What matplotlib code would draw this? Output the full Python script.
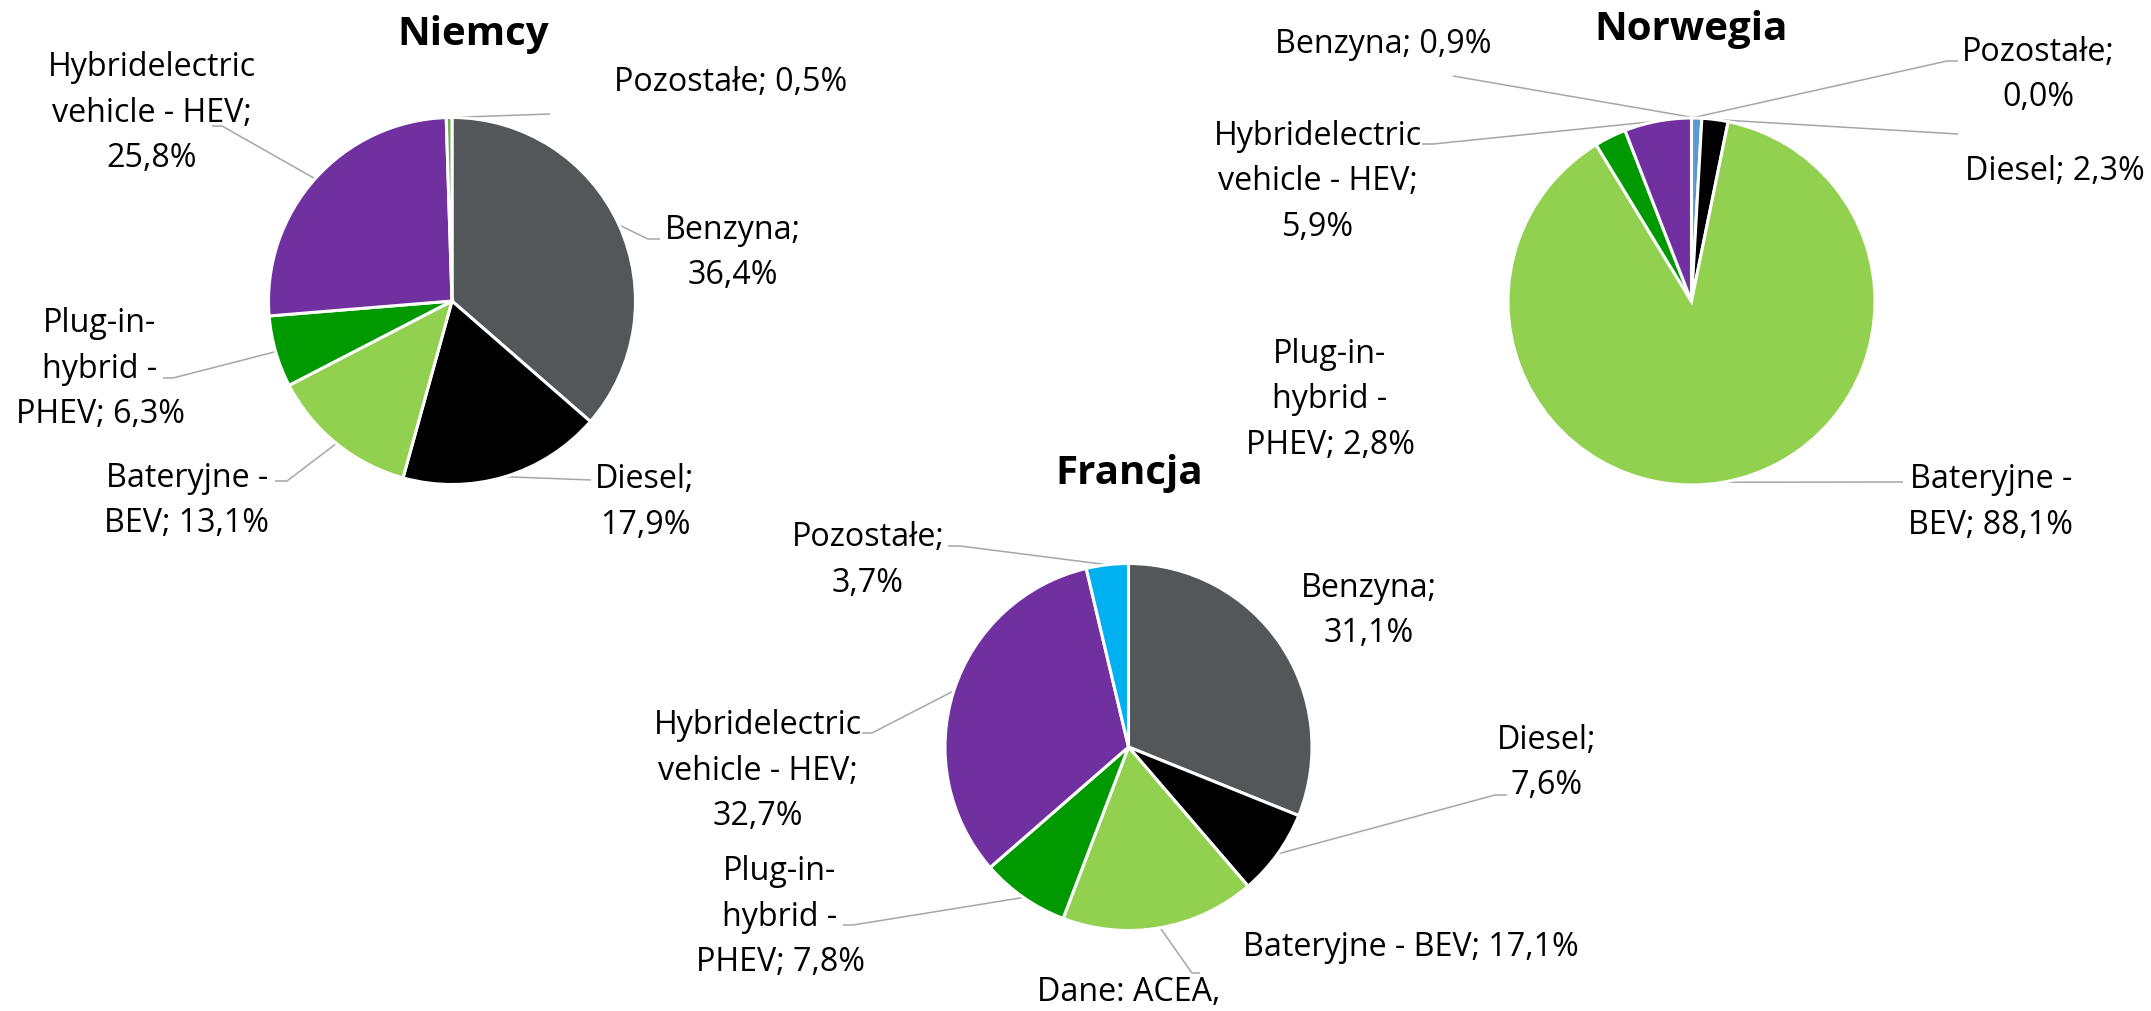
import matplotlib
matplotlib.use("Agg")
import matplotlib.pyplot as plt
import numpy as np

# ---------------- data ----------------
categories = ["Benzyna", "Diesel", "Bateryjne - BEV", "Plug-in-hybrid - PHEV",
              "Hybridelectric vehicle - HEV", "Pozostałe"]
niemcy = [36.4, 17.9, 13.1, 6.3, 25.8, 0.5]
norwegia = [0.9, 2.3, 88.1, 2.8, 5.9, 0.0]
francja = [31.1, 7.6, 17.1, 7.8, 32.7, 3.7]
titles = ["Niemcy", "Norwegia", "Francja"]
source_note = "Dane: ACEA,"

# ---------------- style ----------------
FONT = ["Open Sans", "DejaVu Sans"]
LABEL_SIZE = 23.2
TITLE_SIZE = 29
PITCH = 45.5
LEADER = "#A6A6A6"

base_colors = ["#53575A", "#000000", "#92D050", "#009900", "#7030A0"]
colors = {
    "Niemcy": base_colors + ["#70AD47"],
    "Norwegia": ["#5B9BD5"] + base_colors[1:] + ["#A5A5A5"],
    "Francja": base_colors + ["#00B0F0"],
}

# layout: center, radius, title baseline, per-category label layout
# label: (x_center, first_baseline, wrap_lengths, leader_points)
layout = {
    "Niemcy": dict(
        values=niemcy, center=(452, 301), r=183.5, title=(473, 45),
        labels=[
            (733, 239, [8], [(648, 239), (660, 239)]),
            (645, 488, [7], [(591, 480)]),
            (187, 487, [11], [(287, 481), (275, 481)]),
            (100, 332, [8, 8], [(173, 378), (163, 378)]),
            (152, 76, [14, 14], [(222, 126), (212, 126)]),
            (731, 91, [], [(550, 114)]),
        ]),
    "Norwegia": dict(
        values=norwegia, center=(1691.5, 301.5), r=183.5, title=(1691, 40),
        labels=[
            (1383, 53, [], [(1453, 76)]),
            (2055, 180, [], [(1958, 134)]),
            (1991, 488, [11], [(1903, 482)]),
            (1330, 363, [8, 8], None),
            (1318, 145, [14, 14], [(1433, 144), (1422, 144)]),
            (2038, 61, [10], [(1947, 61), (1958, 61)]),
        ]),
    "Francja": dict(
        values=francja, center=(1128.5, 747), r=183.5, title=(1129, 484),
        labels=[
            (1369, 597, [8], None),
            (1547, 749, [7], [(1495, 795), (1507, 795)]),
            (1411, 956, [], [(1192, 973), (1200, 973)]),
            (780, 880, [8, 8], [(853, 925), (843, 925)]),
            (758, 734, [14, 14], [(872, 733), (862, 733)]),
            (868, 546, [10], [(960, 546), (948, 546)]),
        ]),
}


def fmt(v):
    return f"{v:.1f}".replace(".", ",") + "%"


def wrap(text, lengths):
    lines = []
    rest = text
    for n in lengths:
        lines.append(rest[:n].strip())
        rest = rest[n:].strip()
    lines.append(rest)
    return lines


W, H = 2151, 1011
fig = plt.figure(figsize=(W / 100, H / 100), dpi=100)
ax = fig.add_axes([0, 0, 1, 1])

for country in titles:
    cfg = layout[country]
    vals = np.array(cfg["values"], dtype=float)
    cx, cy = cfg["center"]
    r = cfg["r"]
    ax.pie(vals, colors=colors[country], startangle=-90, counterclock=True,
           center=(cx, cy), radius=r, frame=True,
           wedgeprops=dict(edgecolor="white", linewidth=2.2))

    fr = vals / vals.sum()
    cum = np.cumsum(fr) - fr / 2
    for i, cat in enumerate(categories):
        lx, ly, lens, leader = cfg["labels"][i]
        lines = wrap(f"{cat}; {fmt(vals[i])}", lens)
        for k, line in enumerate(lines):
            ax.text(lx, ly + k * PITCH, line, ha="center", va="baseline",
                    fontsize=LABEL_SIZE, family=FONT, color="black")
        if leader:
            th = np.deg2rad(-90 + 360 * cum[i])
            px, py = cx + r * np.cos(th), cy + r * np.sin(th)
            xs = [px] + [p[0] for p in leader]
            ys = [py] + [p[1] for p in leader]
            ax.plot(xs, ys, color=LEADER, lw=1.1, solid_capstyle="butt", zorder=0.5)

    tx, ty = cfg["title"]
    ax.text(tx, ty, country, ha="center", va="baseline", fontsize=TITLE_SIZE,
            fontweight="bold", family=FONT, color="black")

ax.text(1129, 1001, source_note, ha="center", va="baseline",
        fontsize=LABEL_SIZE, family=FONT, color="black")

ax.set_xlim(0, W)
ax.set_ylim(H, 0)
ax.set_aspect("equal")
ax.axis("off")

fig.savefig("out.png", dpi=100, facecolor="white")
